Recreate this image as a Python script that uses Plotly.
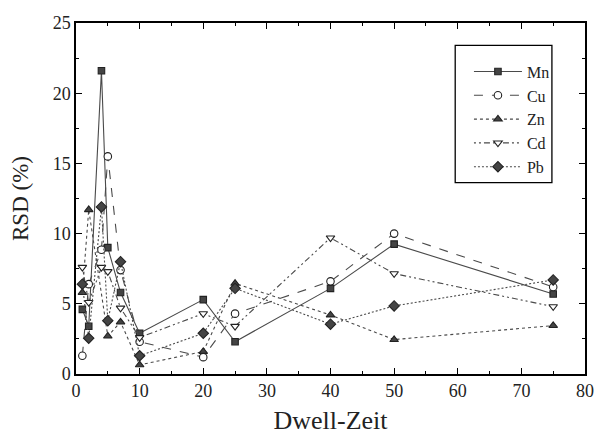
import plotly.graph_objects as go

# Dwell time values (x) and relative standard deviations (%) per element
dwell = [1, 2, 4, 5, 7, 10, 20, 25, 40, 50, 75]
mn = [4.6, 3.4, 21.6, 9.0, 5.8, 2.9, 5.3, 2.3, 6.1, 9.25, 5.7]
cu = [1.3, 6.4, 8.85, 15.5, 7.4, 2.3, 1.2, 4.3, 6.6, 10.0, 6.2]
dwell_zn = [1, 2, 5, 7, 10, 20, 25, 40, 50, 75]
zn = [5.8, 11.7, 2.7, 3.7, 0.65, 1.6, 6.45, 4.2, 2.45, 3.45]
cd = [7.6, 5.1, 7.6, 7.3, 4.7, 2.6, 4.3, 3.4, 9.7, 7.15, 4.8]
pb = [6.4, 2.55, 11.9, 3.8, 8.0, 1.3, 2.9, 6.1, 3.55, 4.85, 6.7]

FONT = "Liberation Serif"
LINE_COL = "#4a4a4a"
FILL_COL = "#444444"

series = [
    ("Mn", dwell, mn, "solid", "square", FILL_COL, 6.5),
    ("Cu", dwell, cu, "dash", "circle", "white", 7.5),
    ("Zn", dwell_zn, zn, "dot", "triangle-up", FILL_COL, 7.5),
    ("Cd", dwell, cd, "2px,3px,2px,3px,6px,3px", "triangle-down", "white", 7.5),
    ("Pb", dwell, pb, "2px,2px", "diamond", FILL_COL, 8),
]

fig = go.Figure()
for name, xs, ys, dash, sym, fill, size in series:
    fig.add_trace(go.Scatter(
        x=xs, y=ys, name=name, mode="lines+markers",
        line=dict(color=LINE_COL, width=1.1, dash=dash),
        marker=dict(symbol=sym, size=size,
                    color=fill, line=dict(color="#222222", width=1.1)),
    ))

axis_common = dict(
    showline=True, linecolor="black", linewidth=1.5, mirror="allticks",
    ticks="inside", ticklen=6, tickwidth=1.3, tickcolor="black",
    showgrid=False, zeroline=False,
    tickfont=dict(family=FONT, size=18, color="#222"),
)

fig.update_xaxes(
    range=[0, 80], dtick=10, tick0=0,
    minor=dict(dtick=5, ticks="inside", ticklen=3, tickcolor="black", tickwidth=1.2),
    title=dict(text="Dwell-Zeit", font=dict(family=FONT, size=26, color="#222"), standoff=10),
    **axis_common,
)
fig.update_yaxes(
    range=[0, 25], dtick=5, tick0=0,
    minor=dict(dtick=2.5, ticks="inside", ticklen=3, tickcolor="black", tickwidth=1.2),
    title=dict(text="RSD (%)", font=dict(family=FONT, size=23, color="#222"), standoff=18),
    **axis_common,
)

fig.update_layout(
    width=605, height=441,
    margin=dict(l=76, r=11, t=23, b=63),
    paper_bgcolor="white", plot_bgcolor="white",
    font=dict(family=FONT, color="#222"),
    showlegend=True,
    legend=dict(
        x=0.772, y=0.91, xanchor="left", yanchor="top",
        bgcolor="rgba(0,0,0,0)", borderwidth=0,
        font=dict(family=FONT, size=16, color="#222"),
        itemwidth=48, tracegroupgap=0,
    ),
    shapes=[dict(
        type="rect", xref="paper", yref="paper",
        x0=0.745, x1=0.935, y0=0.545, y1=0.936,
        line=dict(color="black", width=1.3), fillcolor="rgba(0,0,0,0)",
    )],
)

fig.write_html("out.html")
